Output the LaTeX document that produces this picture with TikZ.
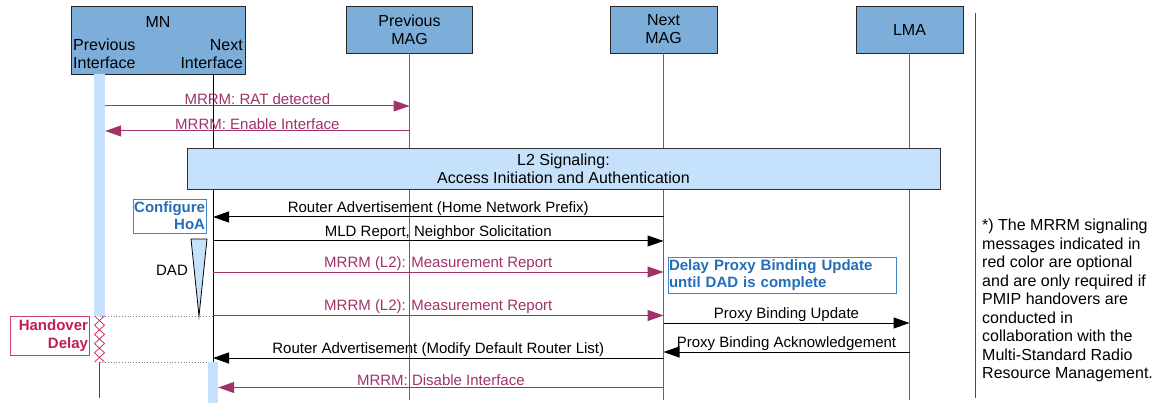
\documentclass[tikz,border=0pt]{standalone}
\usepackage{fontspec}
\setmainfont{Liberation Sans}
\usetikzlibrary{arrows.meta}

\definecolor{mnblue}{RGB}{125,174,218}
\definecolor{paleblue}{RGB}{198,225,251}
\definecolor{mrrmred}{RGB}{160,50,105}
\definecolor{hintblue}{RGB}{35,110,185}
\definecolor{delayred}{RGB}{192,30,85}

\tikzset{
  entity/.style={draw=black!85, fill=mnblue, line width=0.9pt, minimum height=47pt, inner sep=0pt, align=center, font=\fontsize{16}{18}\selectfont},
  lifeline/.style={draw=black!60, line width=1.3pt},
  bar/.style={fill=paleblue, inner sep=0pt, anchor=north},
  msg/.style={-{Triangle[length=16pt,width=11pt]}, line width=1pt},
  msglabel/.style={midway, above=1pt, inner sep=0pt, font=\fontsize{15}{17}\selectfont},
  hintbox/.style={draw=hintblue!85, line width=0.8pt, text=hintblue, inner sep=1pt, font=\bfseries\fontsize{15}{17}\selectfont},
  delaybox/.style={draw=delayred!85, line width=0.8pt, text=delayred, inner sep=1pt, font=\bfseries\fontsize{15}{18}\selectfont},
}

\begin{document}
\begin{tikzpicture}[x=1pt, y=-1pt]
  \useasboundingbox (0,0) rectangle (1158,403);

  % entities
  \node[entity, minimum width=174pt, minimum height=68pt] (mn) at (158,40) {};
  \node[font=\fontsize{16}{18}\selectfont, inner sep=0pt] (mntitle) at (158,22) {MN};
  \node[anchor=west, align=left, inner sep=0pt, font=\fontsize{16}{18}\selectfont] (mnprev) at (73,54) {Previous\\Interface};
  \node[anchor=east, align=right, inner sep=0pt, font=\fontsize{16}{18}\selectfont] (mnnext) at (243,54) {Next\\Interface};
  \node[entity, minimum width=126pt] (pmag) at (409.5,29.5) {Previous\\MAG};
  \node[entity, minimum width=107pt] (nmag) at (663.5,29.5) {Next\\MAG};
  \node[entity, minimum width=107pt] (lma) at (909.5,29.5) {LMA};

  % lifelines
  \coordinate (nif) at (213,74);
  \coordinate (bottom) at (0,400);
  \node[bar, minimum width=11pt, minimum height=242pt] (pbar) at (99.5,74) {};
  \node[bar, minimum width=10pt, minimum height=41pt] (nbar) at (213,362) {};
  \draw[lifeline] (pmag.south) -- (pmag |- bottom);
  \draw[lifeline] (nmag.south) -- (nmag |- bottom);
  \draw[lifeline] (lma.south) -- (lma |- bottom);
  \draw[line width=1pt] (nif) -- (nbar.north);
  \draw[black!70, line width=1pt] (pbar.south |- nbar.north) -- (pbar.south |- 0,398);
  \draw[black!70, line width=1pt] (975,13) -- (975,398);

  % handover delay
  \draw[dotted, black!50, line width=0.8pt] (pbar.south) -- (nif |- pbar.south);
  \draw[dotted, black!50, line width=0.8pt] (pbar.south |- nbar.north) -- (nbar.north west);
  \draw[delayred, line width=0.7pt] (94.5,316) -- (104.5,325.2) -- (94.5,334.4) -- (104.5,343.6) -- (94.5,352.8) -- (104.5,362);
  \draw[delayred, line width=0.7pt] (104.5,316) -- (94.5,325.2) -- (104.5,334.4) -- (94.5,343.6) -- (104.5,352.8) -- (94.5,362);
  \node[delaybox, align=right, text width=77pt, minimum height=39pt] (hodelay) at (49.5,335.5) {Handover\\Delay};

  % L2 signaling
  \node[draw=black!80, fill=paleblue, line width=0.9pt, minimum width=753pt, minimum height=41pt, align=center, font=\fontsize{16}{18}\selectfont] (l2) at (563.5,168.5) {L2 Signaling:\\Access Initiation and Authentication};

  % DAD
  \draw[fill=paleblue, line width=0.8pt] (191,239) -- (207,239) -- (199,316) -- cycle;
  \node[font=\fontsize{15}{17}\selectfont] (dad) at (172,270) {DAD};
  \node[hintbox, align=right, text width=71pt, minimum height=34pt] (hoa) at (169.5,216) {Configure\\HoA};
  \node[hintbox, align=left, text width=226pt, minimum height=36pt] (dpbu) at (782,275) {Delay Proxy Binding Update\\until DAD is complete};

  % message rows
  \coordinate (m1) at (0,106);
  \coordinate (m2) at (0,131);
  \coordinate (m3) at (0,217);
  \coordinate (m4) at (0,241);
  \coordinate (m5) at (0,272);
  \coordinate (m6) at (0,315.5);
  \coordinate (m7) at (0,323);
  \coordinate (m8) at (0,352);
  \coordinate (m9) at (0,358);
  \coordinate (m10) at (0,387.5);

  \draw[msg, mrrmred] (pbar.east |- m1) -- (pmag |- m1) node[msglabel] (l1) {MRRM: RAT detected};
  \draw[msg, mrrmred] (pmag |- m2) -- (pbar.east |- m2) node[msglabel] (l2m) {MRRM: Enable Interface};
  \draw[msg] (nmag |- m3) -- (nif |- m3) node[msglabel] (l3) {Router Advertisement (Home Network Prefix)};
  \draw[msg] (nif |- m4) -- (nmag |- m4) node[msglabel] (l4) {MLD Report, Neighbor Solicitation};
  \draw[msg, mrrmred] (nif |- m5) -- (nmag |- m5) node[msglabel] (l5) {MRRM (L2): Measurement Report};
  \draw[msg, mrrmred] (nif |- m6) -- (nmag |- m6) node[msglabel] (l6) {MRRM (L2): Measurement Report};
  \draw[msg] (nmag |- m7) -- (lma |- m7) node[msglabel] (l7) {Proxy Binding Update};
  \draw[msg] (lma |- m8) -- (nmag |- m8) node[msglabel] (l8) {Proxy Binding Acknowledgement};
  \draw[msg] (nmag |- m9) -- (nif |- m9) node[msglabel] (l9) {Router Advertisement (Modify Default Router List)};
  \draw[msg, mrrmred] (nmag |- m10) -- (nbar.east |- m10) node[msglabel] (l10) {MRRM: Disable Interface};

  % note
  \node[anchor=north west, align=left, inner sep=0pt, font=\fontsize{16}{18.5}\selectfont] (remark) at (982,219) {*) The MRRM signaling\\messages indicated in\\red color are optional\\and are only required if\\PMIP handovers are\\conducted in\\collaboration with the\\Multi-Standard Radio\\Resource Management.};
\end{tikzpicture}
\end{document}
